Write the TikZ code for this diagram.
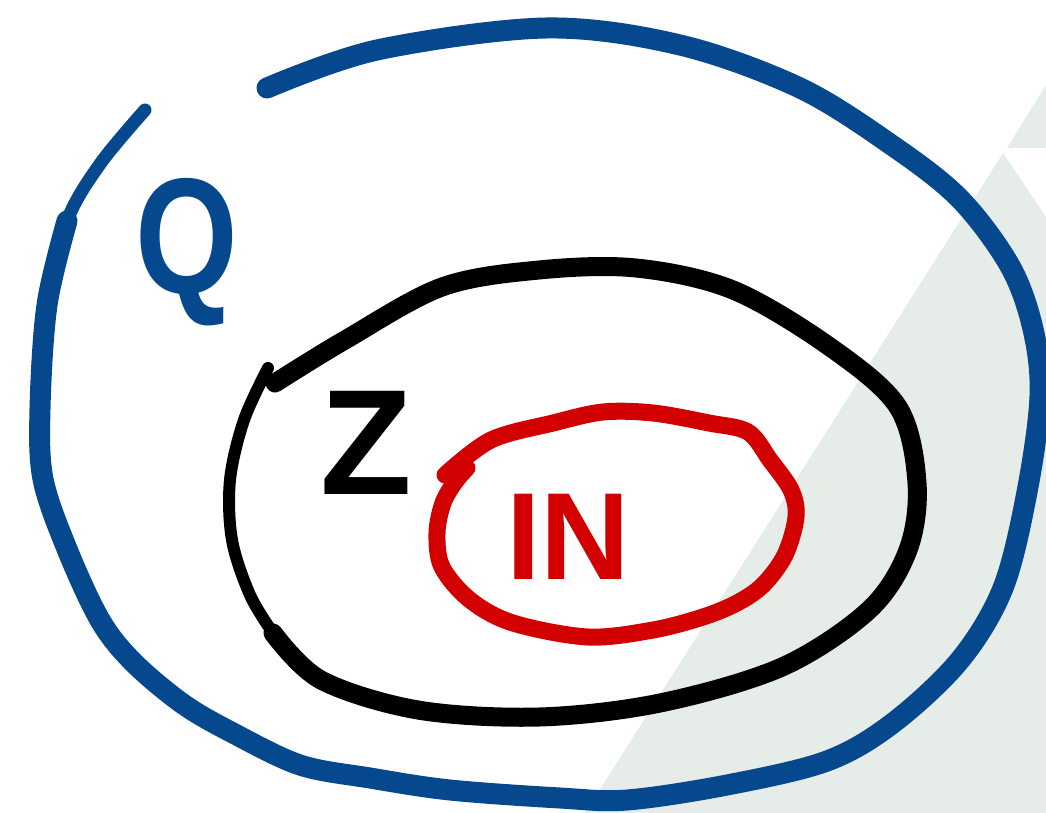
\documentclass[tikz,border=0pt]{standalone}
\usepackage{fontspec}
\setmainfont{Liberation Sans}
\definecolor{qblue}{RGB}{5,72,141}
\definecolor{nred}{RGB}{210,0,0}
\definecolor{bggray}{RGB}{230,236,232}
\begin{document}
\begin{tikzpicture}[x=1pt,y=-1pt,
  pen/.style={line cap=round,line join=round},
  letter/.style={inner sep=0pt,anchor=center}]
\useasboundingbox (0,0) rectangle (1046,813);
% background shapes
\fill[bggray] (1046,85) -- (1007,148) -- (1046,148) -- cycle;
\fill[bggray] (1003,153) -- (585,813) -- (1046,813) -- (1046,217) -- cycle;
% outer blue set
\draw[qblue,pen,line width=21pt] plot[smooth,tension=0.55] coordinates {
 (267,88) (377,50) (546,28) (680,45) (800,88) (893,146) (960,199) (1010,266)
 (1033,329) (1040,396) (1027,492) (1003,588) (960,660) (893,723) (827,761)
 (727,785) (627,800) (560,798) (450,790) (370,778) (300,765) (233,733)
 (183,704) (133,662) (100,620) (67,549) (43,479) (40,409) (47,305) (67,221)};
\draw[qblue,pen,line width=13pt] plot[smooth,tension=0.55] coordinates {
 (47,305) (67,221) (100,164) (145,110)};
% middle black set
\draw[black,pen,line width=19pt] plot[smooth,tension=0.55] coordinates {
 (273,633) (321,680) (418,710) (539,717) (660,703) (782,667) (869,610)
 (908,550) (917,483) (898,407) (830,347) (733,290) (636,268) (539,270)
 (442,287) (345,340) (275,383)};
\draw[black,pen,line width=12pt] plot[smooth,tension=0.55] coordinates {
 (268,368) (244,420) (230,480) (232,540) (250,595) (273,633)};
% inner red set
\draw[nred,pen,line width=17pt] plot[smooth,tension=0.55] coordinates {
 (445,475) (491,440) (553,423) (603,412) (653,413) (709,423) (748,432)
 (770,460) (791,490) (796,517) (785,555) (763,585) (737,603) (703,617)
 (653,630) (588,637) (513,623) (470,600) (442,567) (437,533) (443,503)
 (455,482) (467,468)};
% labels
\node[letter,qblue,font=\bfseries\fontsize{165}{165}\selectfont,xscale=0.8] (q) at (187,252) {Q};
\node[letter,black,font=\bfseries\fontsize{150}{150}\selectfont] (z) at (366,443) {Z};
\node[letter,nred,font=\bfseries\fontsize{124}{124}\selectfont] (n) at (568,537) {IN};
\end{tikzpicture}
\end{document}
